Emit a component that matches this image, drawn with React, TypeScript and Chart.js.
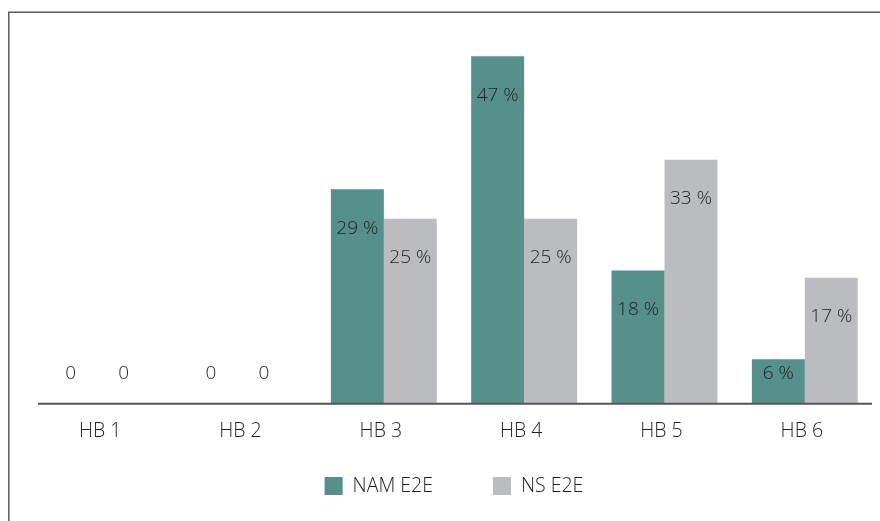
import React, { useEffect, useRef } from "react";
import { Chart, registerables } from "chart.js";

Chart.register(...registerables);

const categories = ["HB 1", "HB 2", "HB 3", "HB 4", "HB 5", "HB 6"];
const seriesNames = ["NAM E2E", "NS E2E"];
const namE2E = [0, 0, 29, 47, 18, 6];
const nsE2E = [0, 0, 25, 25, 33, 17];
const yMax = 50;

const FONT = "'Open Sans', sans-serif";
const TEXT = "#1f1f1f";
const TEAL = "#55918a";
const GREY = "#bbbcc0";

const fmt = (v: number) => (v === 0 ? "0" : `${v} %`);

const framePlugin = {
  id: "frame",
  beforeDraw(chart: any) {
    const { ctx, width, height } = chart;
    ctx.save();
    ctx.strokeStyle = "#5c5c5c";
    ctx.lineWidth = 1.5;
    ctx.beginPath();
    ctx.moveTo(8.8, height);
    ctx.lineTo(8.8, 12.2);
    ctx.lineTo(width, 12.2);
    ctx.stroke();
    ctx.restore();
  },
};

const axisLinePlugin = {
  id: "axisLine",
  afterDatasetsDraw(chart: any) {
    const { ctx, chartArea } = chart;
    ctx.save();
    ctx.strokeStyle = "#555555";
    ctx.lineWidth = 2;
    ctx.beginPath();
    ctx.moveTo(chartArea.left + 5, chartArea.bottom + 0.2);
    ctx.lineTo(chartArea.right - 3, chartArea.bottom + 0.2);
    ctx.stroke();
    ctx.restore();
  },
};

const valueLabelPlugin = {
  id: "valueLabels",
  afterDatasetsDraw(chart: any) {
    const { ctx } = chart;
    ctx.save();
    ctx.font = `300 19px ${FONT}`;
    ctx.fillStyle = TEXT;
    ctx.textAlign = "center";
    ctx.textBaseline = "middle";
    chart.data.datasets.forEach((ds: any, i: number) => {
      const meta = chart.getDatasetMeta(i);
      meta.data.forEach((bar: any, j: number) => {
        const v = ds.data[j];
        const y = Math.min(bar.y + 39, bar.base - 30);
        const x = bar.x + (v === 0 ? -6 : 0);
        ctx.fillText(fmt(v), x, y);
      });
    });
    ctx.restore();
  },
};

// Legend drawn below the axis, centred on the plot area
const legendPlugin = {
  id: "customLegend",
  afterDraw(chart: any) {
    const { ctx, chartArea } = chart;
    const box = 18;
    const gap = 28; // box left -> text left
    const spacing = 60; // text end -> next box
    const top = 477;
    ctx.save();
    ctx.font = `300 19.5px ${FONT}`;
    ctx.textBaseline = "middle";
    ctx.textAlign = "left";
    const items = chart.data.datasets.map((ds: any) => ({
      text: ds.label,
      color: ds.backgroundColor,
      w: ctx.measureText(ds.label).width,
    }));
    let total = 0;
    items.forEach((it: any, i: number) => {
      total += gap + it.w + (i < items.length - 1 ? spacing : 0);
    });
    let x = (chartArea.left + chartArea.right) / 2 - total / 2;
    items.forEach((it: any) => {
      ctx.fillStyle = it.color;
      ctx.fillRect(x, top, box, box);
      ctx.fillStyle = TEXT;
      ctx.fillText(it.text, x + gap, top + box / 2);
      x += gap + it.w + spacing;
    });
    ctx.restore();
  },
};

export default function App() {
  const ref = useRef<HTMLCanvasElement | null>(null);

  useEffect(() => {
    if (!ref.current) return;
    const chart = new Chart(ref.current, {
      type: "bar",
      data: {
        labels: categories,
        datasets: [
          {
            label: seriesNames[0],
            data: namE2E,
            backgroundColor: TEAL,
            borderWidth: 0,
            categoryPercentage: 0.755,
            barPercentage: 1,
          },
          {
            label: seriesNames[1],
            data: nsE2E,
            backgroundColor: GREY,
            borderWidth: 0,
            categoryPercentage: 0.755,
            barPercentage: 1,
          },
        ],
      },
      options: {
        animation: false,
        responsive: false,
        maintainAspectRatio: false,
        layout: { padding: { left: 33, right: 5, top: 34, bottom: 0 } },
        scales: {
          x: {
            grid: { display: false, drawTicks: false },
            border: { display: false },
            ticks: {
              font: { family: FONT, size: 19.5, weight: "300" as any },
              color: TEXT,
              padding: 16,
              labelOffset: -3,
              autoSkip: false,
              maxRotation: 0,
            },
            afterFit: (s: any) => {
              s.height = 117.5;
            },
          },
          y: {
            display: false,
            min: 0,
            max: yMax,
          },
        },
        plugins: {
          legend: { display: false },
          tooltip: { enabled: false },
        },
      },
      plugins: [framePlugin, axisLinePlugin, valueLabelPlugin, legendPlugin],
    });
    return () => chart.destroy();
  }, []);

  return (
    <div style={{ position: "fixed", left: 0, top: 0, width: 880, height: 521, background: "#fff" }}>
      <canvas ref={ref} width={880} height={521} style={{ display: "block", width: 880, height: 521 }} />
    </div>
  );
}
